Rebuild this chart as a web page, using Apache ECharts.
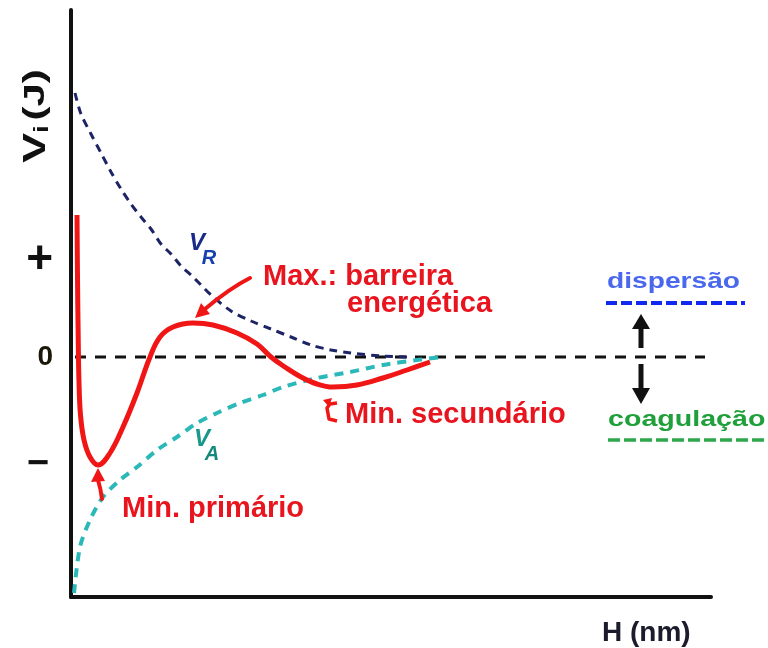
<!DOCTYPE html>
<html>
<head>
<meta charset="utf-8">
<script src="https://cdn.jsdelivr.net/npm/echarts@6/dist/echarts.min.js"></script>
<style>
  html, body { margin: 0; padding: 0; background: #ffffff; }
  #chart { width: 768px; height: 648px; }
</style>
</head>
<body>
<div id="chart"></div>
<script>
// Separation distance H (arbitrary units) and interaction energies V (arbitrary units)

// V_R : electrostatic repulsion
const repulsionX = [0.4, 1, 2, 3, 4, 5, 6, 7, 8, 9, 10, 11, 12, 13, 14, 16, 18, 20, 22, 24, 26, 28, 31, 34];
const repulsionY = [26.4, 24.3, 22.3, 20.4, 18.5, 16.8, 15.3, 14.0, 12.8, 11.3, 10.3, 9.1, 8.2, 7.2, 6.2, 4.6, 3.6, 2.8, 2.0, 1.2, 0.7, 0.4, 0.1, 0];

// V_A : van der Waals attraction
const attractionX = [0.3, 0.9, 1.9, 3.2, 4.9, 6.6, 8.6, 10.6, 12.6, 14.6, 16.9, 19.2, 21.2, 24.6, 27.9, 31.2, 34.6, 37.2];
const attractionY = [-23.6, -19.0, -16.3, -14.0, -12.3, -11.0, -9.3, -8.0, -6.6, -5.6, -4.6, -3.8, -3.0, -2.1, -1.5, -0.8, -0.3, 0];

// V_T : total interaction energy (primary minimum, energy barrier, secondary minimum)
const totalX = [0.6, 0.65, 0.72, 0.8, 0.95, 1.3, 1.9, 2.7, 3.9, 5.2, 6.6, 7.9, 8.9, 10.2, 12.2, 14.2, 16.6, 18.6, 20.0, 21.4, 23.0, 24.6, 26.2, 28.6, 31.2, 33.6, 35.9];
const totalY = [14.2, 8.0, 2.0, -2.5, -5.8, -8.3, -10.0, -10.8, -9.6, -7.0, -3.6, 0, 2.0, 3.0, 3.4, 3.2, 2.4, 1.3, 0, -1.0, -2.0, -2.7, -3.0, -2.8, -2.1, -1.3, -0.5];

// zero energy reference
const zeroX = [0.4, 63.4];
const zeroY = [0, 0];

// qualitative tick marks on the energy axis
const yTickValues = [-10.8, 0, 9.7];
const yTickLabels = ['\u2212', '0', '+'];

const pairs = (xs, ys) => xs.map((x, i) => [x, ys[i]]);

const chart = echarts.init(document.getElementById('chart'), null, { renderer: 'canvas' });

const RED = '#f01616';
const RED_TEXT = '#e8141e';
const FONT = 'Liberation Sans, Arial, sans-serif';

function redText(text, x, y) {
  return {
    type: 'text', x: x, y: y, z: 20,
    style: { text: text, fill: RED_TEXT, font: 'bold 29px ' + FONT, align: 'left', verticalAlign: 'middle' }
  };
}

const option = {
  backgroundColor: '#ffffff',
  animation: false,
  grid: { left: 71, right: 57, top: 10, bottom: 51 },
  xAxis: {
    type: 'value', min: 0, max: 64,
    axisLine: { show: true, onZero: false, lineStyle: { color: '#111111', width: 4 } },
    axisTick: { show: false },
    axisLabel: { show: false },
    splitLine: { show: false }
  },
  yAxis: {
    type: 'value', min: -24, max: 34.7,
    axisLine: { show: true, onZero: false, lineStyle: { color: '#111111', width: 4 } },
    axisTick: { show: false },
    splitLine: { show: false },
    axisLabel: {
      show: true,
      margin: 18,
      customValues: yTickValues,
      formatter: function (v) {
        let best = 0;
        yTickValues.forEach((t, i) => { if (Math.abs(t - v) < Math.abs(yTickValues[best] - v)) best = i; });
        return '{t' + best + '|' + yTickLabels[best] + '}';
      },
      rich: {
        t0: { fontSize: 38, fontWeight: 'bold', color: '#111111', fontFamily: FONT, padding: [0, 4, 0, 0] },
        t1: { fontSize: 28, fontWeight: 'bold', color: '#1a1608', fontFamily: FONT },
        t2: { fontSize: 46, fontWeight: 'bold', color: '#111111', fontFamily: FONT }
      }
    }
  },
  series: [
    {
      name: 'zero', type: 'line', data: pairs(zeroX, zeroY), symbol: 'none', z: 2,
      lineStyle: { color: '#111111', width: 3, type: [11, 9] }
    },
    {
      name: 'VR', type: 'line', data: pairs(repulsionX, repulsionY), symbol: 'none', smooth: 0.3, z: 3,
      lineStyle: { color: '#1c2466', width: 3, type: [8, 6] }
    },
    {
      name: 'VA', type: 'line', data: pairs(attractionX, attractionY), symbol: 'none', smooth: 0.3, z: 3,
      lineStyle: { color: '#2ab8b8', width: 4, type: [9, 7] }
    },
    {
      name: 'VT', type: 'line', data: pairs(totalX, totalY), symbol: 'none', smooth: 0.4, z: 5,
      lineStyle: { color: RED, width: 5, join: 'round' }
    }
  ],
  graphic: [
    // energy axis title, reading upward
    {
      type: 'text', x: 36, y: 116, rotation: Math.PI / 2, scaleX: 1.4, z: 20,
      style: {
        text: '{v|V}{s|i} {j|(J)}',
        align: 'center', verticalAlign: 'middle',
        rich: {
          v: { fontSize: 32, fontWeight: 'bold', fill: '#111111', fontFamily: FONT },
          s: { fontSize: 20, fontWeight: 'bold', fill: '#111111', fontFamily: FONT, verticalAlign: 'bottom', padding: [10, 0, 0, 0] },
          j: { fontSize: 30, fontWeight: 'bold', fill: '#111111', fontFamily: FONT }
        }
      }
    },
    // distance axis title
    {
      type: 'text', x: 602, y: 633, z: 20,
      style: { text: 'H (nm)', fill: '#1b1b2b', font: 'bold 28px ' + FONT, align: 'left', verticalAlign: 'middle' }
    },
    // curve names
    { type: 'text', x: 197, y: 243, z: 20, style: { text: 'V', fill: '#1a2a8a', font: 'italic bold 24px ' + FONT, align: 'center', verticalAlign: 'middle' } },
    { type: 'text', x: 209, y: 258, z: 20, style: { text: 'R', fill: '#1640b0', font: 'italic bold 20px ' + FONT, align: 'center', verticalAlign: 'middle' } },
    { type: 'text', x: 202, y: 439, z: 20, style: { text: 'V', fill: '#17988a', font: 'italic bold 24px ' + FONT, align: 'center', verticalAlign: 'middle' } },
    { type: 'text', x: 212, y: 454, z: 20, style: { text: 'A', fill: '#13897c', font: 'italic bold 20px ' + FONT, align: 'center', verticalAlign: 'middle' } },

    // annotations
    redText('Max.: barreira', 263, 277),
    redText('energética', 347, 304),
    redText('Min. secundário', 345, 415),
    redText('Min. primário', 122, 509),

    // arrow to the energy barrier
    {
      type: 'bezierCurve', z: 20,
      shape: { x1: 250, y1: 278, cpx1: 230, cpy1: 288, x2: 205, y2: 309 },
      style: { stroke: RED, lineWidth: 4, fill: null, lineCap: 'round' }
    },
    {
      type: 'polygon', z: 20,
      shape: { points: [[195, 318], [210, 314], [201, 303]] },
      style: { fill: RED }
    },
    // arrow to the primary minimum
    {
      type: 'bezierCurve', z: 20,
      shape: { x1: 102, y1: 499, cpx1: 101, cpy1: 490, x2: 98, y2: 480 },
      style: { stroke: RED, lineWidth: 4, fill: null, lineCap: 'round' }
    },
    {
      type: 'polygon', z: 20,
      shape: { points: [[98, 468], [91, 482], [105, 481]] },
      style: { fill: RED }
    },
    // small hooked arrow to the secondary minimum
    {
      type: 'polyline', z: 20,
      shape: { points: [[337, 421], [329, 419], [327, 408], [330, 404], [337, 403]] },
      style: { stroke: RED, lineWidth: 3.5, fill: null, lineJoin: 'round' }
    },
    {
      type: 'polygon', z: 20,
      shape: { points: [[323, 400], [332, 398], [329, 407]] },
      style: { fill: RED }
    },

    // stability states on the right
    {
      type: 'text', x: 607, y: 282, scaleX: 1.28, z: 20,
      style: { text: 'dispersão', fill: '#4a68ee', font: 'bold 22px ' + FONT, align: 'left', verticalAlign: 'middle' }
    },
    {
      type: 'line', z: 20,
      shape: { x1: 606, y1: 303, x2: 745, y2: 303 },
      style: { stroke: '#1028f0', lineWidth: 4, lineDash: [11, 4] }
    },
    {
      type: 'text', x: 608, y: 420, scaleX: 1.3, z: 20,
      style: { text: 'coagulação', fill: '#1fa03a', font: 'bold 22px ' + FONT, align: 'left', verticalAlign: 'middle' }
    },
    {
      type: 'line', z: 20,
      shape: { x1: 608, y1: 440, x2: 767, y2: 440 },
      style: { stroke: '#2aa84a', lineWidth: 3.5, lineDash: [12, 4] }
    },
    // up / down arrows
    {
      type: 'line', z: 20,
      shape: { x1: 641, y1: 348, x2: 641, y2: 326 },
      style: { stroke: '#111111', lineWidth: 5 }
    },
    {
      type: 'polygon', z: 20,
      shape: { points: [[632, 329], [641, 314], [650, 329]] },
      style: { fill: '#111111' }
    },
    {
      type: 'line', z: 20,
      shape: { x1: 641, y1: 364, x2: 641, y2: 390 },
      style: { stroke: '#111111', lineWidth: 5 }
    },
    {
      type: 'polygon', z: 20,
      shape: { points: [[632, 388], [641, 404], [650, 388]] },
      style: { fill: '#111111' }
    }
  ]
};

chart.setOption(option);
</script>
</body>
</html>
